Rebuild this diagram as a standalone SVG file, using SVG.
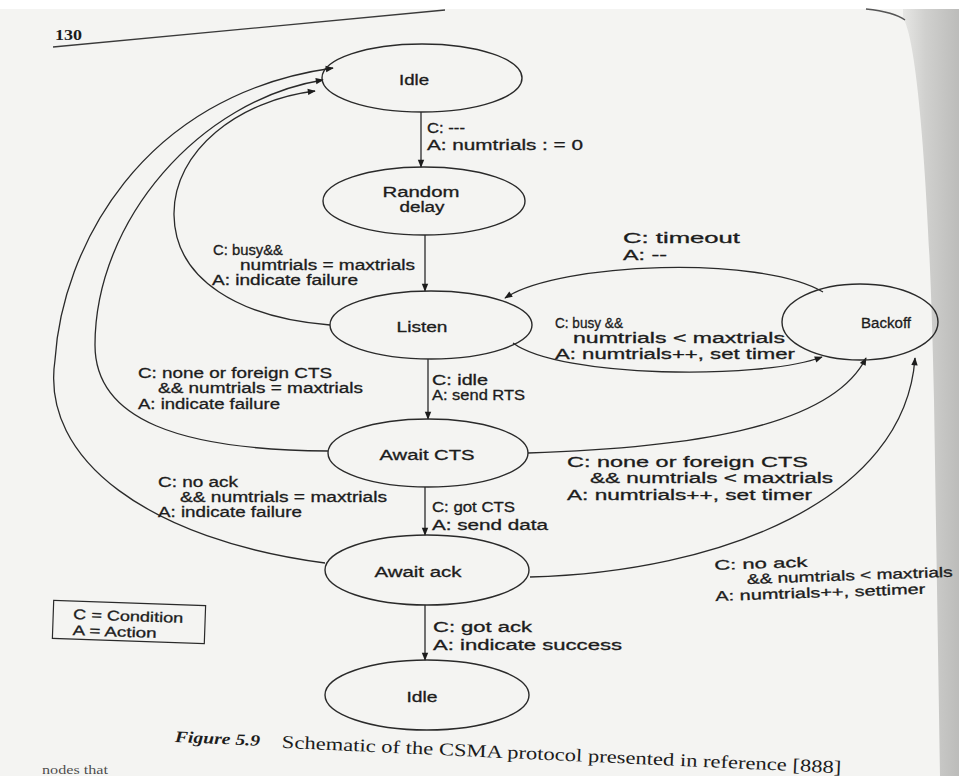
<svg xmlns="http://www.w3.org/2000/svg" width="959" height="776" viewBox="0 0 959 776">
<defs>
<linearGradient id="edge" x1="0" y1="0" x2="1" y2="0">
<stop offset="0" stop-color="#e6e6e4"/>
<stop offset="0.4" stop-color="#d0d0ce"/>
<stop offset="1" stop-color="#bcbcba"/>
</linearGradient>
<marker id="ah" viewBox="0 0 10 10" refX="9" refY="5" markerWidth="9" markerHeight="8" markerUnits="userSpaceOnUse" orient="auto">
<path d="M0,1 L10,5 L0,9 z" fill="#1c1c1c"/>
</marker>
<style>
.node ellipse{fill:none;stroke:#2a2a2a;stroke-width:1.4}
.node text{font-family:"Liberation Sans",Arial,sans-serif;font-size:14px;fill:#1c1c1c;stroke:#1c1c1c;stroke-width:0.3;text-anchor:middle}
.lbl{font-family:"Liberation Sans",Arial,sans-serif;font-size:14px;fill:#1c1c1c;stroke:#1c1c1c;stroke-width:0.3}
.edge{fill:none;stroke:#2a2a2a;stroke-width:1.3;marker-end:url(#ah)}
.serif{font-family:"Liberation Serif","Times New Roman",serif;fill:#1c1c1c}
</style>
</defs>
<rect x="0" y="0" width="959" height="776" fill="#f4f4f2"/>
<rect x="0" y="0" width="959" height="9" fill="#ffffff"/>
<path d="M903,18 C918,40 930,200 934,400 L940,776 L959,776 L959,9 L903,9 Z" fill="url(#edge)"/>
<path d="M866,9 C885,11 897,14 905,20" fill="none" stroke="#555" stroke-width="1.5"/>
<line x1="53" y1="47" x2="445" y2="10" stroke="#3a3a3a" stroke-width="1.3"/>
<text class="serif" x="55" y="40" font-size="15" font-weight="bold" textLength="27" lengthAdjust="spacingAndGlyphs">130</text>

<g id="connectors">
<path class="edge" d="M421,112 L421,167"/>
<path class="edge" d="M425,235 L425,291"/>
<path class="edge" d="M428,359 L428,419"/>
<path class="edge" d="M425,487 L425,535"/>
<path class="edge" d="M425,605 L425,660"/>
<path class="edge" d="M325,563 C150,540 40,460 55,360 C62,250 140,95 333,68"/>
<path class="edge" d="M328,451 C180,450 95,420 95,345 C95,220 200,100 323,80"/>
<path class="edge" d="M330,325 C240,318 175,280 174,215 C173,150 240,100 315,91"/>
<path class="edge" d="M823,292 C760,255 560,262 505,298"/>
<path class="edge" d="M513,343 C560,378 760,380 822,357"/>
<path class="edge" d="M528,453 C680,448 830,430 866,358"/>
<path class="edge" d="M530,577 C720,572 905,500 915,358"/>
</g>

<g id="idle-top" class="node"><ellipse cx="422" cy="78" rx="100" ry="34"/><text x="414" y="85" textLength="30" lengthAdjust="spacingAndGlyphs">Idle</text></g>
<g id="random-delay" class="node"><ellipse cx="424" cy="201" rx="101" ry="34"/><text x="421" y="197" textLength="77" lengthAdjust="spacingAndGlyphs">Random</text><text x="422" y="212" textLength="45" lengthAdjust="spacingAndGlyphs">delay</text></g>
<g id="listen" class="node"><ellipse cx="431" cy="325" rx="101" ry="34"/><text x="422" y="332" textLength="51" lengthAdjust="spacingAndGlyphs">Listen</text></g>
<g id="await-cts" class="node"><ellipse cx="428" cy="453" rx="100" ry="34"/><text x="427" y="460" textLength="95" lengthAdjust="spacingAndGlyphs">Await CTS</text></g>
<g id="await-ack" class="node"><ellipse cx="427" cy="570" rx="102" ry="35"/><text x="418" y="577" textLength="87" lengthAdjust="spacingAndGlyphs">Await ack</text></g>
<g id="idle-bottom" class="node"><ellipse cx="427" cy="695" rx="102" ry="35"/><text x="422" y="702" textLength="31" lengthAdjust="spacingAndGlyphs">Idle</text></g>
<g id="backoff" class="node"><ellipse cx="860" cy="322" rx="78" ry="38"/><text x="886" y="328" textLength="50" lengthAdjust="spacingAndGlyphs">Backoff</text></g>

<g id="labels">
<text class="lbl" x="427" y="133" textLength="38" lengthAdjust="spacingAndGlyphs">C: ---</text>
<text class="lbl" x="427" y="150" textLength="156" lengthAdjust="spacingAndGlyphs">A: numtrials : = 0</text>
<text class="lbl" x="213" y="255" textLength="70" lengthAdjust="spacingAndGlyphs">C: busy&amp;&amp;</text>
<text class="lbl" x="240" y="270" textLength="175" lengthAdjust="spacingAndGlyphs">numtrials = maxtrials</text>
<text class="lbl" x="212" y="285" textLength="146" lengthAdjust="spacingAndGlyphs">A: indicate failure</text>
<text class="lbl" x="623" y="243" textLength="117" lengthAdjust="spacingAndGlyphs">C: timeout</text>
<text class="lbl" x="623" y="260" textLength="44" lengthAdjust="spacingAndGlyphs">A: --</text>
<text class="lbl" x="555" y="328" textLength="68" lengthAdjust="spacingAndGlyphs">C: busy &amp;&amp;</text>
<text class="lbl" x="573" y="343" textLength="212" lengthAdjust="spacingAndGlyphs">numtrials &lt; maxtrials</text>
<text class="lbl" x="555" y="359" textLength="240" lengthAdjust="spacingAndGlyphs">A: numtrials++, set timer</text>
<text class="lbl" x="432" y="385" textLength="56" lengthAdjust="spacingAndGlyphs">C: idle</text>
<text class="lbl" x="432" y="400" textLength="93" lengthAdjust="spacingAndGlyphs">A: send RTS</text>
<text class="lbl" x="138" y="378" textLength="194" lengthAdjust="spacingAndGlyphs">C: none or foreign CTS</text>
<text class="lbl" x="158" y="393" textLength="205" lengthAdjust="spacingAndGlyphs">&amp;&amp; numtrials = maxtrials</text>
<text class="lbl" x="138" y="409" textLength="142" lengthAdjust="spacingAndGlyphs">A: indicate failure</text>
<text class="lbl" x="567" y="467" textLength="241" lengthAdjust="spacingAndGlyphs">C: none or foreign CTS</text>
<text class="lbl" x="590" y="483" textLength="243" lengthAdjust="spacingAndGlyphs">&amp;&amp; numtrials &lt; maxtrials</text>
<text class="lbl" x="567" y="500" textLength="245" lengthAdjust="spacingAndGlyphs">A: numtrials++, set timer</text>
<text class="lbl" x="158" y="487" textLength="80" lengthAdjust="spacingAndGlyphs">C: no ack</text>
<text class="lbl" x="180" y="502" textLength="207" lengthAdjust="spacingAndGlyphs">&amp;&amp; numtrials = maxtrials</text>
<text class="lbl" x="158" y="517" textLength="144" lengthAdjust="spacingAndGlyphs">A: indicate failure</text>
<text class="lbl" x="432" y="512" textLength="83" lengthAdjust="spacingAndGlyphs">C: got CTS</text>
<text class="lbl" x="432" y="530" textLength="116" lengthAdjust="spacingAndGlyphs">A: send data</text>
<g transform="rotate(-2 715 585)">
<text class="lbl" x="715" y="570" textLength="93" lengthAdjust="spacingAndGlyphs">C: no ack</text>
<text class="lbl" x="747" y="585" textLength="206" lengthAdjust="spacingAndGlyphs">&amp;&amp; numtrials &lt; maxtrials</text>
<text class="lbl" x="715" y="601" textLength="210" lengthAdjust="spacingAndGlyphs">A: numtrials++, settimer</text>
</g>
<text class="lbl" x="433" y="632" textLength="99" lengthAdjust="spacingAndGlyphs">C: got ack</text>
<text class="lbl" x="433" y="650" textLength="189" lengthAdjust="spacingAndGlyphs">A: indicate success</text>
</g>

<g id="legend" transform="rotate(2 129 622)">
<rect x="53" y="603" width="152" height="38" fill="none" stroke="#2a2a2a" stroke-width="1.2"/>
<text class="lbl" x="73" y="621" textLength="110" lengthAdjust="spacingAndGlyphs">C = Condition</text>
<text class="lbl" x="73" y="637" textLength="84" lengthAdjust="spacingAndGlyphs">A = Action</text>
</g>

<g id="caption" transform="rotate(2.6 175 737)">
<text class="serif" x="175" y="742" font-size="16" font-weight="bold" font-style="italic" textLength="85" lengthAdjust="spacingAndGlyphs">Figure 5.9</text>
<text class="serif" x="282" y="743" font-size="18" textLength="560" lengthAdjust="spacingAndGlyphs">Schematic of the CSMA protocol presented in reference [888]</text>
</g>
<text class="serif" x="42" y="774" font-size="12" textLength="66" lengthAdjust="spacingAndGlyphs" fill-opacity="0.8">nodes that</text>
</svg>
